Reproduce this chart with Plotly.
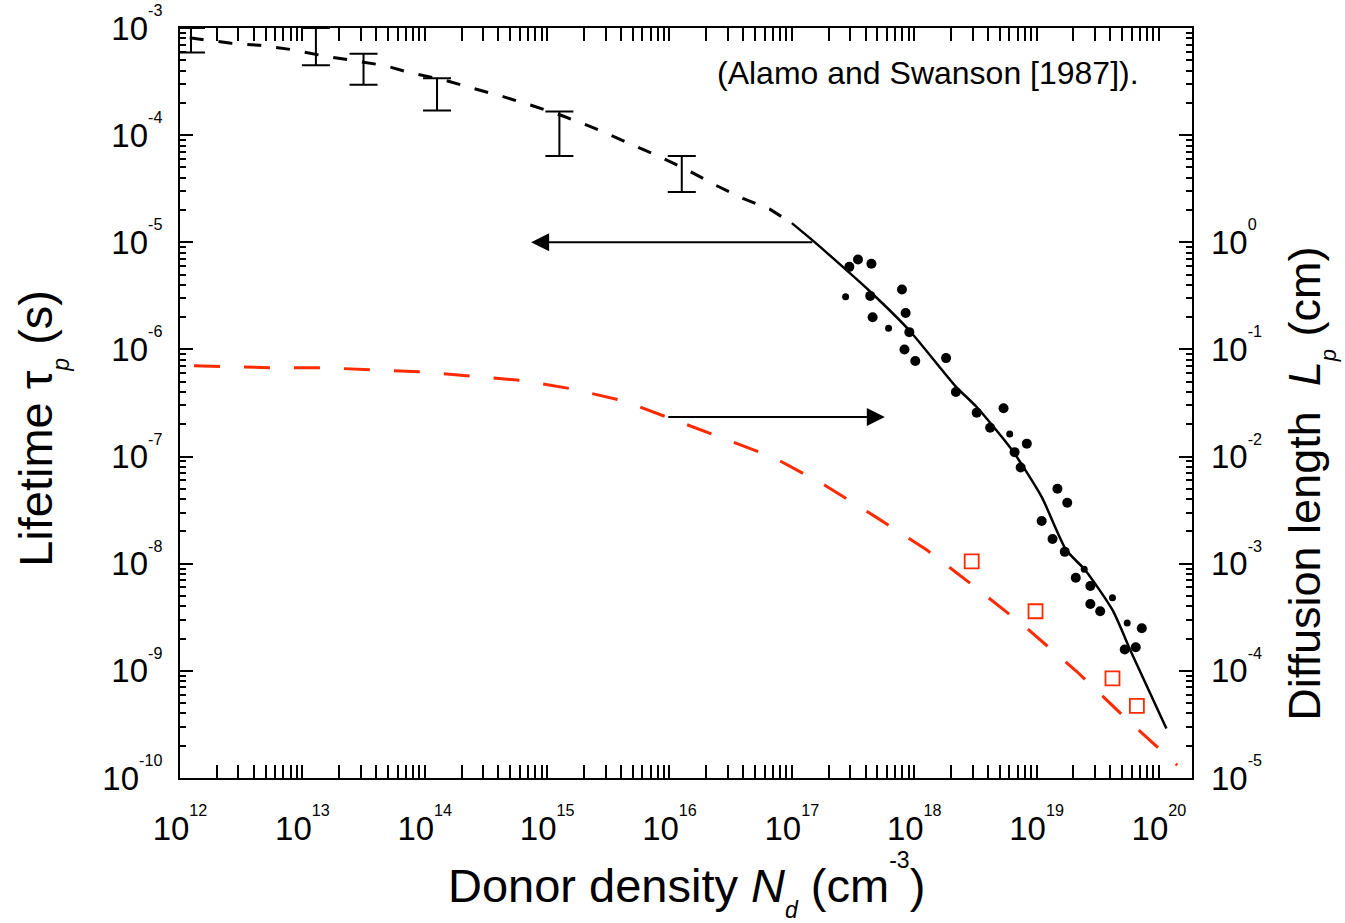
import numpy as np
import plotly.graph_objects as go

# ---- data ----
# black dashed theory curve: hole lifetime (left axis)
dash_N = [1.2e12, 2.63e12, 4.47e12, 8.1e12, 1.48e13, 2.57e13, 4.68e13, 7.76e13, 1.41e14,
          2.45e14, 4.37e14, 7.41e14, 1.35e15, 2.4e15, 4.17e15, 7.59e15, 1.32e16, 2.4e16,
          3.98e16, 6.6e16, 1.0e17]
dash_tau = [8.1e-4, 7.2e-4, 6.9e-4, 6.3e-4, 5.5e-4, 5.0e-4, 4.47e-4, 3.8e-4, 3.3e-4,
            2.75e-4, 2.29e-4, 1.9e-4, 1.51e-4, 1.17e-4, 8.9e-5, 6.6e-5, 4.9e-5, 3.4e-5,
            2.57e-5, 2.04e-5, 1.51e-5]

# black solid theory curve: hole lifetime (left axis)
solid_N = [1.0e17, 1.51e17, 2.14e17, 4.27e17, 9.1e17, 2.19e18, 3.24e18, 6.3e18, 1.10e19,
           1.74e19, 2.5e19, 4.17e19, 6.0e19, 1.15e20]
solid_tau = [1.51e-5, 1.02e-5, 7.2e-6, 3.55e-6, 1.51e-6, 4.5e-7, 2.9e-7, 1.15e-7, 4.2e-8,
             1.35e-8, 8.7e-9, 3.7e-9, 1.45e-9, 2.9e-10]

# measured lifetimes (filled dots, left axis)
dots_N = [2.95e17, 3.47e17, 4.47e17, 4.37e17, 4.57e17, 7.94e17, 8.51e17, 9.12e17, 8.32e17,
          1.02e18, 1.82e18, 2.19e18, 3.24e18, 5.37e18, 4.17e18, 6.61e18, 8.32e18, 7.41e18,
          1.48e19, 1.78e19, 1.10e19, 1.35e19, 1.70e19, 2.09e19, 2.75e19, 2.75e19, 3.31e19,
          7.24e19, 5.25e19, 6.46e19]
dots_tau = [5.9e-6, 6.9e-6, 6.3e-6, 3.16e-6, 2.0e-6, 3.63e-6, 2.19e-6, 1.45e-6, 1.0e-6,
            7.8e-7, 8.3e-7, 4.0e-7, 2.57e-7, 2.82e-7, 1.86e-7, 1.10e-7, 1.32e-7, 7.9e-8,
            5.0e-8, 3.7e-8, 2.5e-8, 1.7e-8, 1.29e-8, 7.4e-9, 6.2e-9, 4.2e-9, 3.6e-9,
            2.5e-9, 1.58e-9, 1.66e-9]
small_dots_N = [2.75e17, 6.17e17, 6.03e18, 2.45e19, 4.17e19, 5.50e19]
small_dots_tau = [3.1e-6, 1.58e-6, 1.62e-7, 8.9e-9, 4.8e-9, 2.8e-9]

# measured lifetimes with error bars (left axis)
err_N = [1.23e12, 1.29e13, 3.16e13, 1.26e14, 1.26e15, 1.26e16]
err_upper = [1.0e-3, 1.0e-3, 5.75e-4, 3.4e-4, 1.66e-4, 6.4e-5]
err_lower = [5.9e-4, 4.5e-4, 2.95e-4, 1.7e-4, 6.4e-5, 2.95e-5]

# red dashed theory curve: diffusion length (right axis)
diff_N = [1.3e12, 5.4e12, 1.41e13, 3.7e13, 9.5e13, 2.4e14, 6.2e14, 1.62e15, 4.2e15, 1.05e16,
          2.75e16, 7.1e16, 1.86e17, 4.8e17, 1.26e18, 3.24e18, 8.3e18, 2.14e19, 5.5e19, 1.41e20]
diff_L = [0.0703, 0.0676, 0.0676, 0.0646, 0.0617, 0.0562, 0.0513, 0.0427, 0.0331, 0.0224,
          0.0148, 0.0098, 0.0054, 0.00275, 0.00135, 5.9e-4, 2.5e-4, 9.8e-5, 3.5e-5, 1.32e-5]

# measured diffusion lengths (open squares, right axis)
sq_N = [2.95e18, 9.8e18, 4.17e19, 6.6e19]
sq_L = [1.05e-3, 3.6e-4, 8.5e-5, 4.7e-5]

# arrows: (tail N, tail value) -> (head N, head value)
arrow_left_tail = (1.51e17, 1.0e-5)
arrow_left_head = (7.4e14, 1.0e-5)
arrow_right_tail = (9.5e15, 0.0234)   # on right axis
arrow_right_head = (5.75e17, 0.0234)

x_ticks = [10.0 ** k for k in range(12, 21)]
y_ticks = [10.0 ** k for k in range(-10, -2)]
y2_ticks = [10.0 ** k for k in range(-5, 1)]

FONT = "Liberation Sans, Arial, sans-serif"


def pow_label(k):
    return "10<sup><sup>%d</sup></sup>" % k


def minor_vals(lo, hi):
    out = []
    for e in range(lo, hi + 1):
        for m in range(2, 10):
            out.append(m * 10.0 ** e)
    return out


fig = go.Figure()

fig.add_trace(go.Scatter(x=dash_N, y=dash_tau, mode="lines",
                         line=dict(color="black", width=3, dash="14px,15px"),
                         showlegend=False))
fig.add_trace(go.Scatter(x=solid_N, y=solid_tau, mode="lines",
                         line=dict(color="black", width=2.5, shape="spline", smoothing=0.6),
                         showlegend=False))

err_center = [np.sqrt(u * l) for u, l in zip(err_upper, err_lower)]
fig.add_trace(go.Scatter(
    x=err_N, y=err_center, mode="markers",
    marker=dict(size=1, color="rgba(0,0,0,0)"),
    error_y=dict(type="data", symmetric=False,
                 array=[u - c for u, c in zip(err_upper, err_center)],
                 arrayminus=[c - l for c, l in zip(err_center, err_lower)],
                 color="black", thickness=2, width=14),
    showlegend=False))

fig.add_trace(go.Scatter(x=dots_N, y=dots_tau, mode="markers",
                         marker=dict(size=10, color="black"), showlegend=False))
fig.add_trace(go.Scatter(x=small_dots_N, y=small_dots_tau, mode="markers",
                         marker=dict(size=7, color="black"), showlegend=False))

fig.add_trace(go.Scatter(x=diff_N, y=diff_L, mode="lines", yaxis="y2",
                         line=dict(color="#ff2a00", width=3, dash="26px,24px"),
                         showlegend=False))
fig.add_trace(go.Scatter(x=sq_N, y=sq_L, mode="markers", yaxis="y2",
                         marker=dict(symbol="square-open", size=14, color="#ff2a00",
                                     line=dict(width=1.8, color="#ff2a00")),
                         showlegend=False))

axis_common = dict(type="log", showgrid=False, zeroline=False, showline=True,
                   linecolor="black", linewidth=2, ticks="inside", ticklen=13,
                   tickwidth=2, tickcolor="black", automargin=False,
                   ticklabeloverflow="allow",
                   tickfont=dict(family=FONT, size=33, color="black"))

fig.update_layout(
    width=1345, height=923,
    margin=dict(l=180, r=153, t=28, b=145),
    paper_bgcolor="white", plot_bgcolor="white",
    font=dict(family=FONT, color="black"),
    xaxis=dict(axis_common, range=[11.9999, 20.27], mirror="allticks",
               tickmode="array", tickvals=x_ticks, ticklabelstandoff=20,
               ticktext=[pow_label(k) for k in range(12, 21)],
               minor=dict(ticks="inside", ticklen=6, tickwidth=1.5, tickcolor="black",
                          tickmode="array", tickvals=minor_vals(12, 20))),
    yaxis=dict(axis_common, range=[-10.0002, -2.9998], mirror="allticks",
               tickmode="array", tickvals=y_ticks, ticklabelstandoff=9,
               ticktext=[pow_label(k) for k in range(-10, -2)],
               minor=dict(ticks="inside", ticklen=6, tickwidth=1.5, tickcolor="black",
                          tickmode="array", tickvals=minor_vals(-10, -4))),
    yaxis2=dict(type="log", overlaying="y", side="right", range=[-5.0002, 2.0002],
                showgrid=False, zeroline=False, showline=False, ticks="",
                automargin=False, ticklabelstandoff=18, ticklabeloverflow="allow",
                tickmode="array", tickvals=y2_ticks,
                ticktext=[pow_label(k) for k in range(-5, 1)],
                tickfont=dict(family=FONT, size=33, color="black")),
)

ann = []
ann.append(dict(x=np.log10(arrow_left_head[0]), y=np.log10(arrow_left_head[1]),
                ax=np.log10(arrow_left_tail[0]), ay=np.log10(arrow_left_tail[1]),
                xref="x", yref="y", axref="x", ayref="y", text="",
                showarrow=True, arrowhead=2, arrowsize=1.8, arrowwidth=2, arrowcolor="black"))
ann.append(dict(x=np.log10(arrow_right_head[0]), y=np.log10(arrow_right_head[1]),
                ax=np.log10(arrow_right_tail[0]), ay=np.log10(arrow_right_tail[1]),
                xref="x", yref="y2", axref="x", ayref="y2", text="",
                showarrow=True, arrowhead=2, arrowsize=1.8, arrowwidth=2, arrowcolor="black"))
ann.append(dict(x=16.37, y=-3.42, xref="x", yref="y", xanchor="left", yanchor="middle",
                text="(Alamo and Swanson [1987]).", showarrow=False,
                font=dict(family=FONT, size=32, color="black")))
ann.append(dict(x=0.50, y=-0.143, xref="paper", yref="paper", xanchor="center",
                yanchor="middle", showarrow=False,
                text="Donor density <i>N</i><sub><sub><i>d</i></sub></sub> (cm<sup><sup>-3</sup></sup>)",
                font=dict(family=FONT, size=47, color="black")))
ann.append(dict(x=-0.137, y=0.466, xref="paper", yref="paper", xanchor="center",
                yanchor="middle", showarrow=False, textangle=-90,
                text="Lifetime τ<sub><sub><i>p</i></sub></sub> (s)",
                font=dict(family=FONT, size=47, color="black")))
ann.append(dict(x=1.117, y=0.393, xref="paper", yref="paper", xanchor="center",
                yanchor="middle", showarrow=False, textangle=-90,
                text="Diffusion length  <i>L</i><sub><sub><i>p</i></sub></sub> (cm)",
                font=dict(family=FONT, size=45, color="black")))
fig.update_layout(annotations=ann)

fig.write_html("out.html", config={"displayModeBar": False},
               post_script="document.body.style.margin='0';document.body.style.overflow='hidden';")
